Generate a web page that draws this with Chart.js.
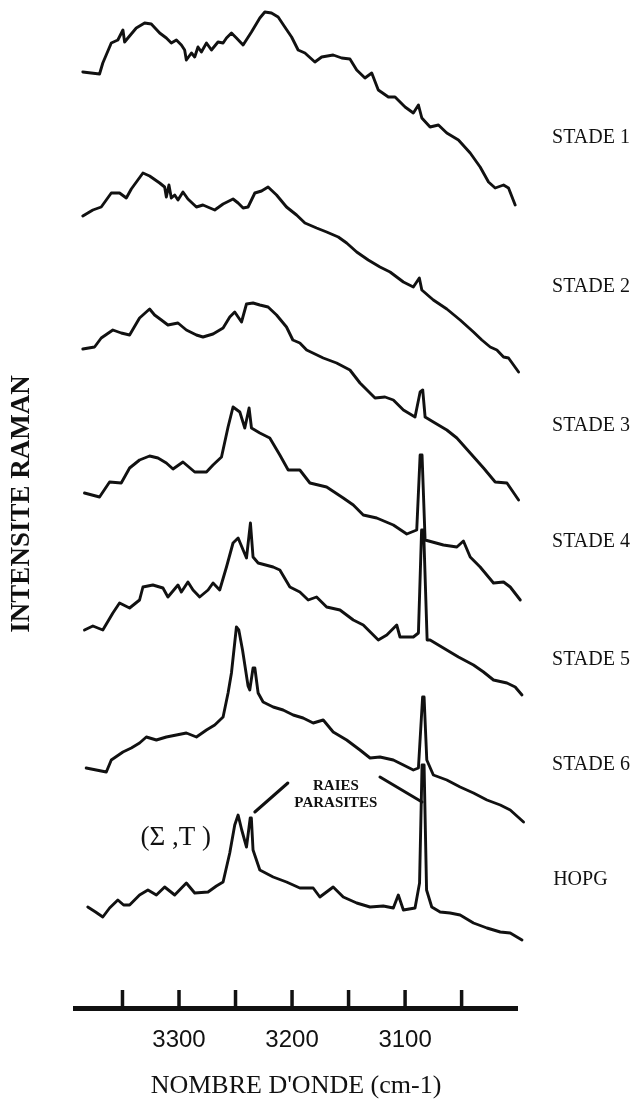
<!DOCTYPE html>
<html><head><meta charset="utf-8">
<script src="https://cdn.jsdelivr.net/npm/chart.js@4.4.1/dist/chart.umd.min.js"></script>
<style>html,body{margin:0;padding:0;background:#fff}</style>
</head><body>
<canvas id="c" width="636" height="1114"></canvas>
<script>
// Raman spectra, [wavenumber cm-1, intensity a.u. (stacked offsets included)]
const stade1 = [[3385.1,936],[3370.3,934],[3367.4,945],[3359.9,965],[3354.1,968],[3349.6,978],[3348.1,966],[3345.2,970],[3337.8,980],[3330.4,985],[3324.5,984],[3317.1,975],[3311.2,970],[3306.8,965],[3302.3,968],[3297.9,963],[3295.0,958],[3293.5,948],[3289.0,955],[3286.1,951],[3283.2,961],[3280.2,956],[3275.7,965],[3271.3,958],[3265.5,966],[3261.0,965],[3258.0,970],[3253.6,975],[3249.2,970],[3243.3,963],[3235.9,976],[3228.5,990],[3224.1,996],[3218.2,995],[3212.3,991],[3206.4,981],[3200.4,971],[3194.6,958],[3188.6,955],[3179.8,946],[3173.8,951],[3163.6,953],[3156.1,950],[3148.8,949],[3142.8,938],[3135.5,930],[3129.5,935],[3123.7,918],[3114.8,911],[3108.9,911],[3100.0,901],[3092.7,895],[3088.2,903],[3085.2,890],[3077.9,881],[3070.5,883],[3063.1,875],[3052.8,868],[3042.4,855],[3033.6,841],[3026.2,826],[3020.3,820],[3012.9,823],[3008.5,820],[3002.6,803]];
const stade2 = [[3385.1,792],[3376.2,798],[3368.8,801],[3359.9,815],[3352.6,815],[3346.6,810],[3342.2,819],[3331.9,835],[3326.0,832],[3317.1,825],[3312.7,821],[3311.2,811],[3308.9,823],[3306.8,810],[3303.8,813],[3300.9,808],[3296.5,816],[3292.1,809],[3284.6,801],[3278.8,803],[3268.4,798],[3261.0,804],[3252.2,809],[3247.7,805],[3243.3,800],[3238.9,801],[3232.9,815],[3227.0,817],[3221.2,821],[3213.7,813],[3204.9,801],[3196.0,793],[3188.6,785],[3178.3,780],[3169.4,776],[3159.1,771],[3151.7,765],[3142.8,756],[3132.6,748],[3122.2,741],[3113.3,736],[3101.5,726],[3092.7,721],[3087.4,730],[3085.2,718],[3075.0,708],[3063.1,699],[3051.3,688],[3039.5,676],[3032.1,668],[3024.7,661],[3018.8,658],[3012.9,651],[3008.5,650],[2999.6,636]];
const stade3 = [[3385.1,659],[3374.7,661],[3368.8,670],[3358.5,678],[3351.1,675],[3343.7,673],[3334.9,690],[3326.0,699],[3321.6,693],[3315.6,688],[3309.8,683],[3300.9,685],[3293.5,678],[3284.6,673],[3278.8,671],[3269.9,674],[3261.0,680],[3255.1,691],[3250.7,696],[3244.7,686],[3240.3,704],[3234.5,705],[3228.5,703],[3221.2,701],[3213.7,693],[3204.9,681],[3199.3,668],[3193.1,665],[3187.1,658],[3172.4,650],[3160.6,645],[3148.8,638],[3139.9,625],[3126.6,610],[3117.8,611],[3110.4,608],[3101.5,598],[3091.2,591],[3086.7,616],[3084.4,618],[3082.3,591],[3075.0,586],[3063.1,578],[3054.2,570],[3042.4,555],[3030.6,540],[3020.3,526],[3009.9,525],[2999.6,508]];
const stade4 = [[3383.6,515],[3370.3,511],[3361.4,526],[3351.1,525],[3343.7,540],[3334.9,548],[3326.0,552],[3318.6,550],[3311.2,545],[3305.3,539],[3296.5,546],[3286.1,536],[3275.7,536],[3269.9,543],[3262.4,551],[3256.6,581],[3252.2,601],[3246.2,596],[3241.8,580],[3238.0,600],[3235.9,580],[3228.5,575],[3219.7,570],[3210.8,553],[3203.4,538],[3193.1,538],[3184.2,525],[3169.4,521],[3154.7,510],[3145.8,503],[3137.0,493],[3125.1,490],[3110.4,483],[3098.5,474],[3089.7,478],[3086.7,553],[3085.0,553],[3082.3,468],[3066.1,463],[3054.2,461],[3048.4,467],[3042.4,451],[3033.6,441],[3021.8,425],[3012.9,426],[3007.0,421],[2998.1,408]];
const stade5 = [[3383.6,378],[3376.2,382],[3367.4,378],[3358.5,395],[3352.6,405],[3343.7,400],[3334.9,408],[3331.9,421],[3323.1,423],[3314.2,420],[3309.8,411],[3300.9,423],[3297.9,416],[3292.1,426],[3287.6,418],[3281.7,411],[3274.3,418],[3269.9,425],[3264.0,418],[3258.0,441],[3252.2,465],[3247.7,470],[3240.3,450],[3236.8,485],[3234.5,451],[3230.0,445],[3216.7,441],[3210.8,438],[3201.9,421],[3193.1,416],[3185.7,408],[3178.3,411],[3169.4,401],[3157.6,398],[3145.8,388],[3137.0,383],[3123.7,368],[3116.2,373],[3107.4,383],[3104.5,371],[3092.7,371],[3088.2,375],[3085.4,478],[3083.6,478],[3080.5,368],[3077.9,368],[3066.1,360],[3052.8,351],[3039.5,343],[3030.6,336],[3021.8,328],[3009.9,325],[3002.6,321],[2996.6,313]];
const stade6 = [[3382.1,240],[3364.3,236],[3359.9,248],[3349.6,256],[3342.2,260],[3334.9,265],[3328.9,271],[3320.0,268],[3311.2,271],[3302.3,273],[3293.5,275],[3284.6,271],[3275.7,278],[3268.4,283],[3261.0,291],[3256.6,315],[3253.6,335],[3249.2,381],[3247.1,378],[3243.8,358],[3238.9,322],[3237.4,318],[3234.5,340],[3232.9,340],[3230.0,315],[3225.6,306],[3216.7,301],[3207.9,298],[3199.0,293],[3190.2,290],[3181.3,285],[3172.4,288],[3163.6,276],[3151.7,268],[3139.9,258],[3131.0,250],[3122.2,251],[3110.4,248],[3101.5,243],[3092.7,238],[3088.2,240],[3084.5,311],[3083.2,311],[3080.8,248],[3075.0,233],[3063.1,228],[3051.3,221],[3039.5,215],[3027.6,208],[3015.8,203],[3007.0,198],[2995.2,186]];
const hopg = [[3380.7,101],[3373.8,96],[3367.4,91],[3361.4,100],[3354.1,108],[3349.0,103],[3343.7,103],[3334.9,113],[3327.5,118],[3320.0,113],[3312.7,121],[3303.8,113],[3293.5,125],[3286.1,115],[3274.3,116],[3266.9,122],[3261.0,126],[3255.1,155],[3250.7,183],[3247.7,193],[3244.5,178],[3240.3,161],[3237.0,190],[3236.0,190],[3234.5,158],[3228.5,138],[3216.7,131],[3204.9,126],[3193.1,120],[3181.3,120],[3175.4,111],[3163.6,121],[3154.7,111],[3142.8,105],[3131.0,101],[3119.3,102],[3110.4,100],[3106.0,113],[3101.5,98],[3091.2,100],[3087.2,125],[3085.0,243],[3083.2,243],[3081.0,118],[3076.4,101],[3069.0,96],[3060.2,95],[3051.3,93],[3039.5,85],[3027.6,80],[3015.8,76],[3007.0,75],[2996.6,68]];

const seriesNames = ['STADE 1','STADE 2','STADE 3','STADE 4','STADE 5','STADE 6','HOPG'];
const seriesData = [stade1, stade2, stade3, stade4, stade5, stade6, hopg];
// label anchor positions in data units (wavenumber, intensity)
const labelWn = [2970, 2970, 2970, 2970, 2970, 2970, 2969];
const labelInt = [870, 721, 582, 466, 348, 243, 128];

const tickValues = [3050, 3100, 3150, 3200, 3250, 3300, 3350];
const tickLabels = [3100, 3200, 3300];

// annotations
const peakLabel = {text: '(\u03A3 ,T )', wn: 3334.0, int: 170};
const raiesLabel = {lines: ['RAIES', 'PARASITES'], wn: 3161.2, int: [222, 205]};
const leaderLeft = [[3232.9, 196], [3203.7, 225]];
const leaderRight = [[3122.2, 231], [3085.0, 206]];

const annotPlugin = {
  id: 'annot',
  afterDraw(chart) {
    const {ctx, scales: {x, y}} = chart;
    ctx.save();
    ctx.fillStyle = '#111';
    ctx.strokeStyle = '#111';
    // upward tick marks on the axis
    const base = y.getPixelForValue(y.min);
    ctx.lineWidth = 3.5;
    x.ticks.forEach(t => {
      const px = x.getPixelForValue(t.value);
      ctx.beginPath();
      ctx.moveTo(px, base);
      ctx.lineTo(px, base - 18);
      ctx.stroke();
    });
    // series labels
    ctx.font = '20px "Liberation Serif", serif';
    ctx.textAlign = 'left';
    ctx.textBaseline = 'middle';
    seriesNames.forEach((n, i) => {
      ctx.fillText(n, x.getPixelForValue(labelWn[i]), y.getPixelForValue(labelInt[i]));
    });
    // (Sigma,T)
    ctx.font = '27px "Liberation Serif", serif';
    ctx.fillText(peakLabel.text, x.getPixelForValue(peakLabel.wn), y.getPixelForValue(peakLabel.int));
    // RAIES PARASITES
    ctx.font = 'bold 15px "Liberation Serif", serif';
    ctx.textAlign = 'center';
    raiesLabel.lines.forEach((t, i) => {
      ctx.fillText(t, x.getPixelForValue(raiesLabel.wn), y.getPixelForValue(raiesLabel.int[i]));
    });
    // leader lines
    ctx.lineWidth = 3;
    ctx.lineCap = 'round';
    [leaderLeft, leaderRight].forEach(l => {
      ctx.beginPath();
      ctx.moveTo(x.getPixelForValue(l[0][0]), y.getPixelForValue(l[0][1]));
      ctx.lineTo(x.getPixelForValue(l[1][0]), y.getPixelForValue(l[1][1]));
      ctx.stroke();
    });
    ctx.restore();
  }
};

new Chart(document.getElementById('c'), {
  type: 'line',
  data: {
    datasets: seriesData.map((s, i) => ({
      label: seriesNames[i],
      data: s.map(p => ({x: p[0], y: p[1]})),
      borderColor: '#111',
      borderWidth: 2.9,
      pointRadius: 0,
      tension: 0,
      fill: false,
      clip: false,
      borderJoinStyle: 'round',
      borderCapStyle: 'round'
    }))
  },
  options: {
    responsive: false,
    animation: false,
    layout: {padding: {left: 0, right: 119, top: 0, bottom: 0}},
    plugins: {legend: {display: false}, tooltip: {enabled: false}},
    scales: {
      x: {
        type: 'linear', reverse: true, min: 3001, max: 3392,
        afterBuildTicks: s => { s.ticks = tickValues.map(v => ({value: v})); },
        afterFit: s => { s.height = 106; },
        grid: {drawOnChartArea: false, drawTicks: false},
        border: {display: true, width: 5, color: '#111'},
        ticks: {
          autoSkip: false, maxRotation: 0, padding: 18, color: '#111',
          font: {family: '"Liberation Sans", sans-serif', size: 24},
          callback: v => tickLabels.includes(v) ? String(v) : ''
        },
        title: {display: true, text: "NOMBRE D'ONDE (cm-1)", color: '#111',
          font: {family: '"Liberation Serif", serif', size: 26}, padding: {top: 0, bottom: 12}}
      },
      y: {
        type: 'linear', min: 0, max: 1008,
        afterFit: s => { s.width = 75; },
        ticks: {display: false},
        grid: {display: false},
        border: {display: false},
        title: {display: true, text: 'INTENSITE RAMAN', color: '#111',
          font: {family: '"Liberation Serif", serif', size: 27, weight: 'bold'}, padding: {top: 6, bottom: 0}}
      }
    }
  },
  plugins: [annotPlugin]
});
</script>
</body></html>
